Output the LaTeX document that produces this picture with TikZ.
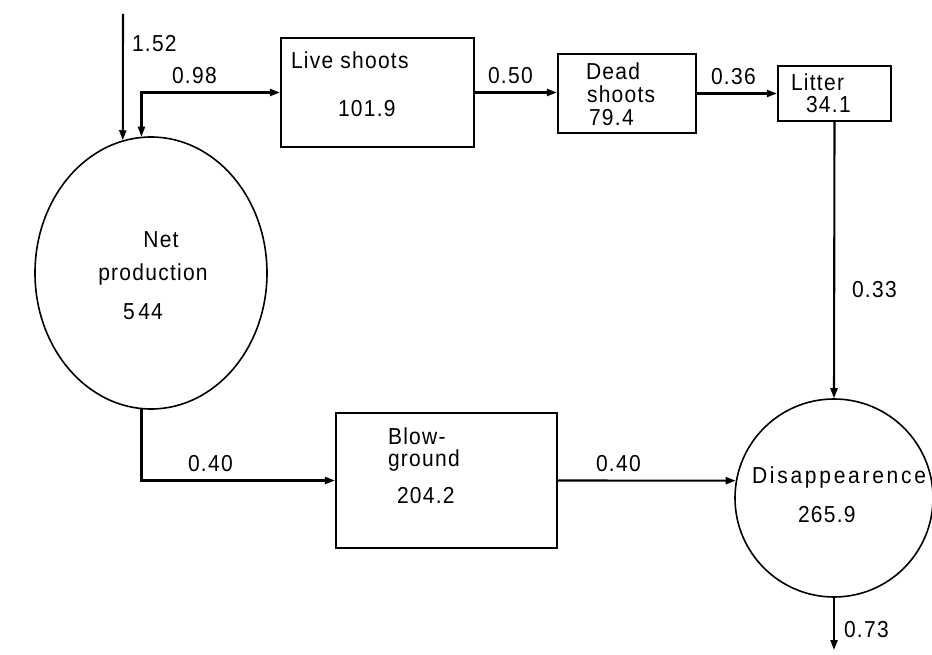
\documentclass[tikz,border=0pt]{standalone}
\usepackage{fontspec}
\setmainfont{Liberation Sans}[LetterSpace=6]
\usetikzlibrary{arrows.meta,shapes.geometric}
\newcommand{\tallt}[1]{\scalebox{1}[1.1]{#1}}
\begin{document}
\begin{tikzpicture}[x=1pt,y=-1pt, line width=2.1pt,
  >={Triangle[length=10pt,width=7pt]},
  box/.style={draw, rectangle, inner sep=0pt},
  txt/.style={font=\fontsize{21}{24}\selectfont, inner sep=0pt, anchor=west},
  ctr/.style={font=\fontsize{21}{24}\selectfont, inner sep=0pt}]
\useasboundingbox (0,0) rectangle (932,655);

% shapes
\node[draw, ellipse, line width=1.6pt, minimum width=232pt, minimum height=272pt, inner sep=0pt] (net) at (151,273) {};
\node[draw, circle, line width=1.6pt, minimum size=198pt, inner sep=0pt] (dis) at (834,498) {};
\node[box, minimum width=193pt, minimum height=109pt] (live) at (377.5,92.5) {};
\node[box, minimum width=138pt, minimum height=79pt] (dead) at (627,93.5) {};
\node[box, minimum width=113pt, minimum height=55pt] (litter) at (834.5,93.5) {};
\node[box, minimum width=221pt, minimum height=135pt] (blow) at (446.5,480.5) {};

% texts inside
\node[txt] (tlive) at (290,60) {\tallt{Live shoots}};
\node[txt] (vlive) at (337,109) {\tallt{101.9}};
\node[txt] (tdead1) at (585,71) {\tallt{Dead}};
\node[txt] (tdead2) at (586,94) {\tallt{shoots}};
\node[txt] (vdead) at (588,118) {\tallt{79.4}};
\node[txt] (tlit) at (790,82) {\tallt{Litter}};
\node[txt] (vlit) at (805,105) {\tallt{34.1}};
\node[ctr] (tnet1) at (161,240) {\tallt{Net}};
\node[ctr] (tnet2) at (153,275) {\tallt{production}};
\node[ctr] (vnet) at (143,312) {\tallt{5\,44}};
\node[txt] (tblow1) at (387,436) {\tallt{Blow-}};
\node[txt] (tblow2) at (387,461) {\tallt{ground}};
\node[txt] (vblow) at (396,496) {\tallt{204.2}};
\node[txt,font=\fontsize{21}{24}\selectfont\addfontfeature{LetterSpace=13}] (tdis) at (751,478) {\tallt{Disappearence}};
\node[txt] (vdis) at (797,515) {\tallt{265.9}};

% connectors
\coordinate (in) at (123,14);
\coordinate (out) at (834,650);
\draw[->] (in) -- (net.102);
\draw[<->] (net.94) |- (live.west);
\draw[->] (live.east) -- (live.east -| dead.west);
\draw[->] (dead.east) -- (litter.west);
\draw[->] (litter.south) -- (dis.north);
\draw[->] (net.266) |- (blow.west);
\draw[->] (blow.east) -- (dis.170);
\draw[->] (dis.south) -- (out);

% flow labels
\node[txt] (l152) at (131,44) {\tallt{1.52}};
\node[txt] (l098) at (171,76) {\tallt{0.98}};
\node[txt] (l050) at (487,76) {\tallt{0.50}};
\node[txt] (l036) at (710,77) {\tallt{0.36}};
\node[txt] (l033) at (851,290) {\tallt{0.33}};
\node[txt] (l040a) at (187,464) {\tallt{0.40}};
\node[txt] (l040b) at (595,464) {\tallt{0.40}};
\node[txt] (l073) at (843,630) {\tallt{0.73}};
\end{tikzpicture}
\end{document}
